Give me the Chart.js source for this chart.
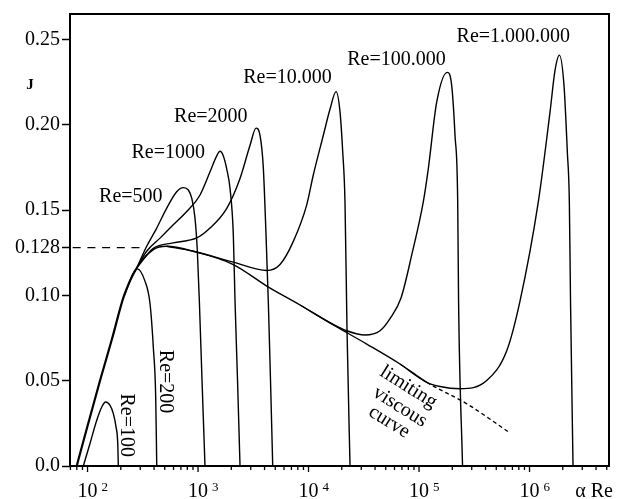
<!DOCTYPE html>
<html>
<head>
<meta charset="utf-8">
<script src="https://cdn.jsdelivr.net/npm/chart.js@4.4.1/dist/chart.umd.min.js"></script>
<style>
  html, body { margin: 0; padding: 0; background: #fff; overflow: hidden; }
  canvas { display: block; }
</style>
</head>
<body>
<canvas id="stability" width="618" height="499"></canvas>
<script>
// J against alpha*Re (log axis) for several Reynolds numbers

// limiting viscous curve, dashed past the last finite-Re branch
const limitAlphaRe = [79.8, 101, 129.8, 166.7, 213.7, 279, 394, 521, 906, 2086, 4186, 8375, 16760, 33630, 67320, 117400, 270200, 666000];
const limitJ       = [0, 0.0245, 0.0501, 0.0746, 0.0997, 0.1161, 0.1269, 0.1288, 0.1259, 0.1181, 0.1055, 0.0944, 0.0827, 0.0715, 0.0598, 0.0491, 0.0365, 0.0194];
const limitDashFrom = 15;

const re100AlphaRe = [91.6, 105.3, 121.2, 134.5, 146.1, 159.8, 171.2, 181.1, 187.7, 190];
const re100J       = [0, 0.0132, 0.0268, 0.0346, 0.0375, 0.0355, 0.0307, 0.0229, 0.0132, 0];

const re200AlphaRe = [213.7, 282, 331, 368, 394, 414, 423];
const re200J       = [0.0997, 0.1156, 0.1084, 0.095, 0.0695, 0.0404, 0];

const re500AlphaRe = [279, 343, 423, 521, 641, 736, 817, 877, 939, 986, 1028, 1087, 1156];
const re500J       = [0.1161, 0.1288, 0.1395, 0.1512, 0.1608, 0.1632, 0.1618, 0.157, 0.1453, 0.1259, 0.0967, 0.0501, 0];

const re1000AlphaRe = [279, 343, 453, 597, 790, 1042, 1284, 1476, 1581, 1694, 1820, 1950, 2086, 2162, 2278, 2399];
const re1000J       = [0.1161, 0.1259, 0.1336, 0.1414, 0.1492, 0.1589, 0.1725, 0.1818, 0.1845, 0.1818, 0.1741, 0.1625, 0.1358, 0.0967, 0.0501, 0];

const re2000AlphaRe = [279, 394, 597, 973, 1284, 1820, 2399, 2956, 3348, 3639, 3899, 4123, 4325, 4529, 4742];
const re2000J       = [0.1161, 0.1276, 0.1308, 0.1337, 0.1395, 0.1511, 0.1686, 0.188, 0.1981, 0.1938, 0.1748, 0.1358, 0.0967, 0.0501, 0];

const re1e4AlphaRe = [521, 906, 2086, 4186, 5521, 7283, 9634, 11044, 13614, 15660, 17742, 19284, 20393, 21380, 22310, 23750];
const re1e4J       = [0.1288, 0.1259, 0.1195, 0.1146, 0.1181, 0.1317, 0.1531, 0.1706, 0.1939, 0.2093, 0.2195, 0.2075, 0.1841, 0.155, 0.0793, 0];

const re1e5AlphaRe = [8375, 16760, 22170, 32440, 44380, 54640, 68700, 86450, 109400, 121400, 144500, 180300, 197600, 211700, 223900, 228000, 247700];
const re1e5J       = [0.0944, 0.083, 0.0793, 0.0768, 0.0793, 0.0864, 0.0985, 0.1245, 0.155, 0.1744, 0.2133, 0.2308, 0.223, 0.1939, 0.155, 0.0967, 0];

const re1e6AlphaRe = [67320, 117400, 154900, 235000, 410000, 622000, 820000, 1202000, 1533000, 1701000, 1862000, 2052000, 2199000, 2293000, 2350000, 2476000];
const re1e6J       = [0.0598, 0.0491, 0.0466, 0.0453, 0.0501, 0.0676, 0.0967, 0.155, 0.2075, 0.2319, 0.2409, 0.223, 0.1841, 0.155, 0.0967, 0];

// inviscid limit drawn as a dashed level line
const jInviscid = 0.128;
const inviscidEndAlphaRe = 320;

const xMin = 69.4;
const xMax = 5.24e6;
const xDecades = [2, 3, 4, 5, 6];
const yTickValues = [0, 0.05, 0.10, 0.128, 0.15, 0.20, 0.25];
const yTickLabels = ['0.0', '0.05', '0.10', '0.128', '0.15', '0.20', '0.25'];

const SERIF = '"Liberation Serif", "DejaVu Serif", serif';

const curveLabels = [
  { text: 'Re=100', at: [223, 0.0239], angle: 90 },
  { text: 'Re=200', at: [503, 0.0495], angle: 90 },
  { text: 'Re=500', at: [246.6, 0.1579], angle: 0 },
  { text: 'Re=1000', at: [538, 0.1837], angle: 0 },
  { text: 'Re=2000', at: [1305, 0.205], angle: 0 },
  { text: 'Re=10.000', at: [6456, 0.2274], angle: 0 },
  { text: 'Re=100.000', at: [62580, 0.2381], angle: 0 },
  { text: 'Re=1.000.000', at: [713500, 0.2516], angle: 0 },
  { text: 'limiting', at: [80050, 0.0462], angle: 32 },
  { text: 'viscous', at: [67300, 0.0346], angle: 32 },
  { text: 'curve', at: [53700, 0.0258], angle: 32 }
];

const toPoints = (xs, ys) => xs.map((x, i) => ({ x: x, y: ys[i] }));

function curve(xs, ys, extra) {
  return Object.assign({
    data: toPoints(xs, ys),
    borderColor: '#000',
    borderWidth: 1.4,
    pointRadius: 0,
    fill: false,
    cubicInterpolationMode: 'monotone'
  }, extra || {});
}

// frame, log ticks with 10^n labels, axis names and curve captions
const decorations = {
  id: 'decorations',
  afterDraw(chart) {
    const { ctx, chartArea: a, scales: { x, y } } = chart;
    ctx.save();
    ctx.strokeStyle = '#000';
    ctx.fillStyle = '#000';

    ctx.lineWidth = 2;
    ctx.strokeRect(a.left, a.top, a.right - a.left, a.bottom - a.top);

    ctx.lineWidth = 1.3;
    for (let e = 1; e <= 6; e++) {
      for (let m = 1; m <= 9; m++) {
        const v = m * Math.pow(10, e);
        if (v < x.min || v > x.max) continue;
        const px = x.getPixelForValue(v);
        ctx.beginPath();
        ctx.moveTo(px, a.bottom);
        ctx.lineTo(px, a.bottom + (m === 1 ? 6 : 4));
        ctx.stroke();
      }
    }

    xDecades.forEach(p => {
      const px = x.getPixelForValue(Math.pow(10, p));
      ctx.font = '20px ' + SERIF;
      ctx.textAlign = 'center';
      ctx.textBaseline = 'alphabetic';
      ctx.fillText('10', px, a.bottom + 30.5);
      ctx.font = '13px ' + SERIF;
      ctx.textAlign = 'left';
      ctx.fillText(String(p), px + 14, a.bottom + 25);
    });

    ctx.font = '20px ' + SERIF;
    ctx.textAlign = 'right';
    ctx.fillText('\u03B1 Re', a.right + 4, a.bottom + 30.5);

    ctx.font = 'bold 15px ' + SERIF;
    ctx.textAlign = 'center';
    ctx.textBaseline = 'middle';
    ctx.fillText('J', a.left - 40, y.getPixelForValue(0.2232));

    ctx.font = '20px ' + SERIF;
    curveLabels.forEach(l => {
      ctx.save();
      ctx.translate(x.getPixelForValue(l.at[0]), y.getPixelForValue(l.at[1]));
      ctx.rotate(l.angle * Math.PI / 180);
      ctx.textAlign = 'center';
      ctx.textBaseline = 'middle';
      ctx.fillText(l.text, 0, 0);
      ctx.restore();
    });
    ctx.restore();
  }
};

new Chart(document.getElementById('stability'), {
  type: 'line',
  data: {
    datasets: [
      curve(limitAlphaRe, limitJ, {
        segment: {
          borderWidth: c => c.p0DataIndex < 5 ? 2.2 : 1.4,
          borderDash: c => c.p0DataIndex >= limitDashFrom ? [4, 3] : undefined
        }
      }),
      curve(re100AlphaRe, re100J),
      curve(re200AlphaRe, re200J),
      curve(re500AlphaRe, re500J),
      curve(re1000AlphaRe, re1000J),
      curve(re2000AlphaRe, re2000J),
      curve(re1e4AlphaRe, re1e4J),
      curve(re1e5AlphaRe, re1e5J),
      curve(re1e6AlphaRe, re1e6J),
      curve([xMin, inviscidEndAlphaRe], [jInviscid, jInviscid], {
        borderWidth: 1.3,
        borderDash: [8, 6.7],
        borderDashOffset: 12,
        cubicInterpolationMode: 'default'
      })
    ]
  },
  options: {
    responsive: false,
    animation: false,
    devicePixelRatio: 1,
    layout: { padding: { top: 11, right: 9, left: 0, bottom: 0 } },
    plugins: { legend: { display: false }, tooltip: { enabled: false } },
    scales: {
      x: {
        type: 'logarithmic',
        min: xMin,
        max: xMax,
        afterFit: s => { s.height = 33; },
        grid: { display: false },
        border: { display: false },
        ticks: { display: false }
      },
      y: {
        type: 'linear',
        min: 0,
        max: 0.265,
        afterBuildTicks: s => { s.ticks = yTickValues.map(v => ({ value: v })); },
        afterFit: s => { s.width = 70; },
        grid: { drawOnChartArea: false, drawTicks: true, tickLength: 8, tickWidth: 1.5, tickColor: '#000' },
        border: { display: false },
        ticks: {
          autoSkip: false,
          padding: 2,
          color: '#000',
          font: { family: SERIF, size: 20 },
          callback: (v, i) => yTickLabels[i]
        }
      }
    }
  },
  plugins: [decorations]
});
</script>
</body>
</html>
